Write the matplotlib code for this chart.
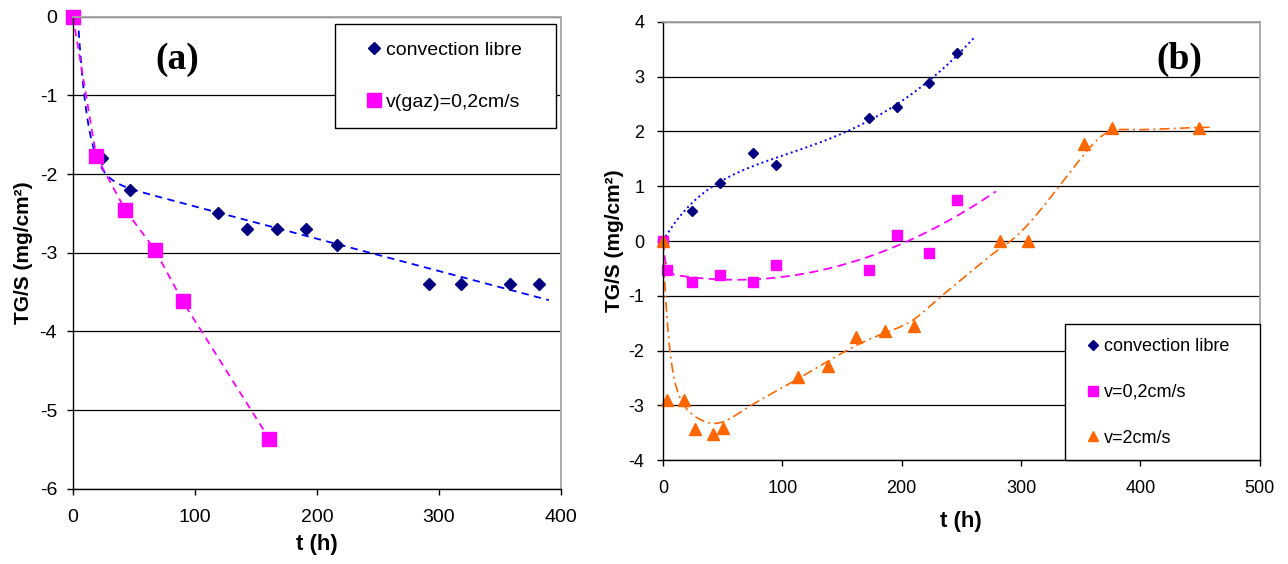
import numpy as np
import matplotlib
matplotlib.use("Agg")
import matplotlib.pyplot as plt

plt.rcParams['font.family'] = ['Liberation Sans', 'DejaVu Sans']
plt.rcParams['axes.unicode_minus'] = False

# (a) mass change vs time
ta_libre = [0, 24, 47, 119, 143, 167, 191, 216, 292, 318, 358, 382]
ya_libre = [0, -1.80, -2.20, -2.50, -2.70, -2.70, -2.70, -2.90, -3.40, -3.40, -3.40, -3.40]
ta_gaz = [0, 19, 43, 67, 90, 161]
ya_gaz = [0, -1.77, -2.46, -2.96, -3.62, -5.37]

# (b)
tb_libre = [0, 24, 47.5, 75, 95, 173, 196, 223, 246]
yb_libre = [0, 0.54, 1.06, 1.60, 1.39, 2.24, 2.45, 2.88, 3.42]
tb_02 = [0, 3, 24, 47.5, 75, 95, 173, 196, 223, 246]
yb_02 = [0, -0.52, -0.74, -0.62, -0.74, -0.43, -0.53, 0.11, -0.21, 0.74]
tb_2 = [0, 3.7, 18, 27, 41.6, 50, 113, 138, 162, 186, 210, 282, 306, 353, 376, 449]
yb_2 = [0, -2.90, -2.90, -3.42, -3.52, -3.41, -2.48, -2.28, -1.76, -1.65, -1.55,
        0, 0, 1.77, 2.07, 2.07]

navy = '#000080'
mag = '#FF00FF'
orange = '#FF6600'
edge_gray = '#A6A6A6'

fig = plt.figure(figsize=(12.88, 5.64), dpi=100)
ax1 = fig.add_axes([73/1288, 1-488.7/564, (561-73)/1288, (488.7-16.7)/564])
ax2 = fig.add_axes([663/1288, 1-460.3/564, (1259.7-663)/1288, (460.3-21.7)/564])


def style(ax, fs, pad):
    ax.yaxis.grid(True, color='black', lw=0.9)
    ax.set_axisbelow(True)
    for s in ['left', 'bottom']:
        ax.spines[s].set_color('black')
        ax.spines[s].set_linewidth(1.0)
    for s in ['top', 'right']:
        ax.spines[s].set_color(edge_gray)
        ax.spines[s].set_linewidth(1.3)
    ax.tick_params(direction='out', length=4.5, width=1, labelsize=fs, pad=pad)


def fit_eval(t, y, basis, tt):
    # least squares on a small set of basis functions (no intercept)
    t = np.asarray(t, float)
    A = np.column_stack([f(t) for f in basis])
    c = np.linalg.lstsq(A, np.asarray(y, float), rcond=None)[0]
    return sum(ci * f(tt) for ci, f in zip(c, basis))


def loess(t, y, tt, h):
    # local linear smoothing with a gaussian kernel
    t = np.asarray(t, float)
    y = np.asarray(y, float)
    out = []
    for x0 in tt:
        w = np.exp(-0.5*((t - x0)/h)**2)
        A = np.column_stack([np.ones_like(t), t - x0]) * np.sqrt(w)[:, None]
        c = np.linalg.lstsq(A, y*np.sqrt(w), rcond=None)[0]
        out.append(c[0])
    return np.array(out)


# ---- panel (a)
tt = np.linspace(4, 390, 400)
basis_a = [lambda x: 1 - np.exp(-np.clip(x - 4, 0, None)/8.0), lambda x: x/100]
ax1.plot(tt, fit_eval(ta_libre, ya_libre, basis_a, tt), color='#0000FF', lw=1.3, dashes=(4, 3))
ax1.plot(ta_gaz, ya_gaz, color=mag, lw=1.3, dashes=(4, 3))
ax1.plot(ta_libre, ya_libre, 'D', color=navy, ms=6.5, ls='none', clip_on=False, label='convection libre')
ax1.plot(ta_gaz, ya_gaz, 's', color=mag, ms=9.5, ls='none', clip_on=False, label='v(gaz)=0,2cm/s')

ax1.set_xlim(0, 400)
ax1.set_ylim(-6, 0)
ax1.set_xticks(np.arange(0, 401, 100))
ax1.set_yticks(np.arange(-6, 1, 1))
style(ax1, 14, 7)
ax1.tick_params(axis='x', pad=10)
ax1.set_xlabel('t (h)', fontsize=16, fontweight='bold')
ax1.set_ylabel('TG/S (mg/cm²)', fontsize=15, fontweight='bold')
ax1.xaxis.set_label_coords(0.5, -0.096)
ax1.yaxis.set_label_coords(-0.082, 0.5)
ax1.text(0.213, 0.91, '(a)', transform=ax1.transAxes, ha='center', va='center',
         fontsize=27, fontweight='bold', family='Liberation Serif')
leg = ax1.legend(loc='upper left', bbox_to_anchor=(0.537, 0.0, 0.453, 0.985), mode='expand',
                 fontsize=14, frameon=True, fancybox=False, edgecolor='black', framealpha=1,
                 borderpad=0.9, labelspacing=1.75, handlelength=2.16, handletextpad=-0.46,
                 borderaxespad=0)
leg.get_frame().set_linewidth(1.0)

# ---- panel (b)
tt = np.linspace(0, 262, 300)
basis_b = [lambda x: 1 - np.exp(-x/40.0), lambda x: x/100, lambda x: (x/100)**3]
ax2.plot(tt, fit_eval(tb_libre, yb_libre, basis_b, tt), ':', color='#0000FF', lw=1.4)

tt = np.linspace(0, 279, 300)
basis_m = [lambda x: 1 - np.exp(-x/2.0), lambda x: x/100, lambda x: (x/100)**2]
ax2.plot(tt, fit_eval(tb_02, yb_02, basis_m, tt), color=mag, lw=1.3, dashes=(5, 3))

# orange: smoothed trend of the points after t=0, brought back to 0 at the start
tt = np.linspace(0, 458, 500)
smooth = loess(tb_2[1:], yb_2[1:], tt, 30)
ax2.plot(tt, (1 - np.exp(-tt/5.0)) * smooth, color=orange, lw=1.2,
         dashes=(6, 2.5, 1.2, 2.5))

ax2.plot(tb_libre, yb_libre, 'D', color=navy, ms=5.6, ls='none', clip_on=False, label='convection libre')
ax2.plot(tb_02, yb_02, 's', color=mag, ms=7.5, ls='none', clip_on=False, label='v=0,2cm/s')
ax2.plot(tb_2, yb_2, '^', color=orange, ms=8, ls='none', clip_on=False, label='v=2cm/s')

ax2.set_xlim(0, 500)
ax2.set_ylim(-4, 4)
ax2.set_xticks(np.arange(0, 501, 100))
ax2.set_yticks(np.arange(-4, 5, 1))
style(ax2, 13, 9)
ax2.tick_params(axis='x', pad=10)
ax2.set_xlabel('t (h)', fontsize=16, fontweight='bold')
ax2.set_ylabel('TG/S (mg/cm²)', fontsize=15, fontweight='bold')
ax2.xaxis.set_label_coords(0.5, -0.1156)
ax2.yaxis.set_label_coords(-0.066, 0.5)
ax2.text(0.866, 0.915, '(b)', transform=ax2.transAxes, ha='center', va='center',
         fontsize=27, fontweight='bold', family='Liberation Serif')
leg2 = ax2.legend(loc='lower left', bbox_to_anchor=(0.674, 0.0, 0.326, 0.313), mode='expand',
                  fontsize=13, frameon=True, fancybox=False, edgecolor='black', framealpha=1,
                  borderpad=0.75, labelspacing=1.6, handlelength=1.6, handletextpad=-0.2,
                  borderaxespad=0, markerscale=0.9)
leg2.get_frame().set_linewidth(1.0)

fig.savefig('out.png', dpi=100)
